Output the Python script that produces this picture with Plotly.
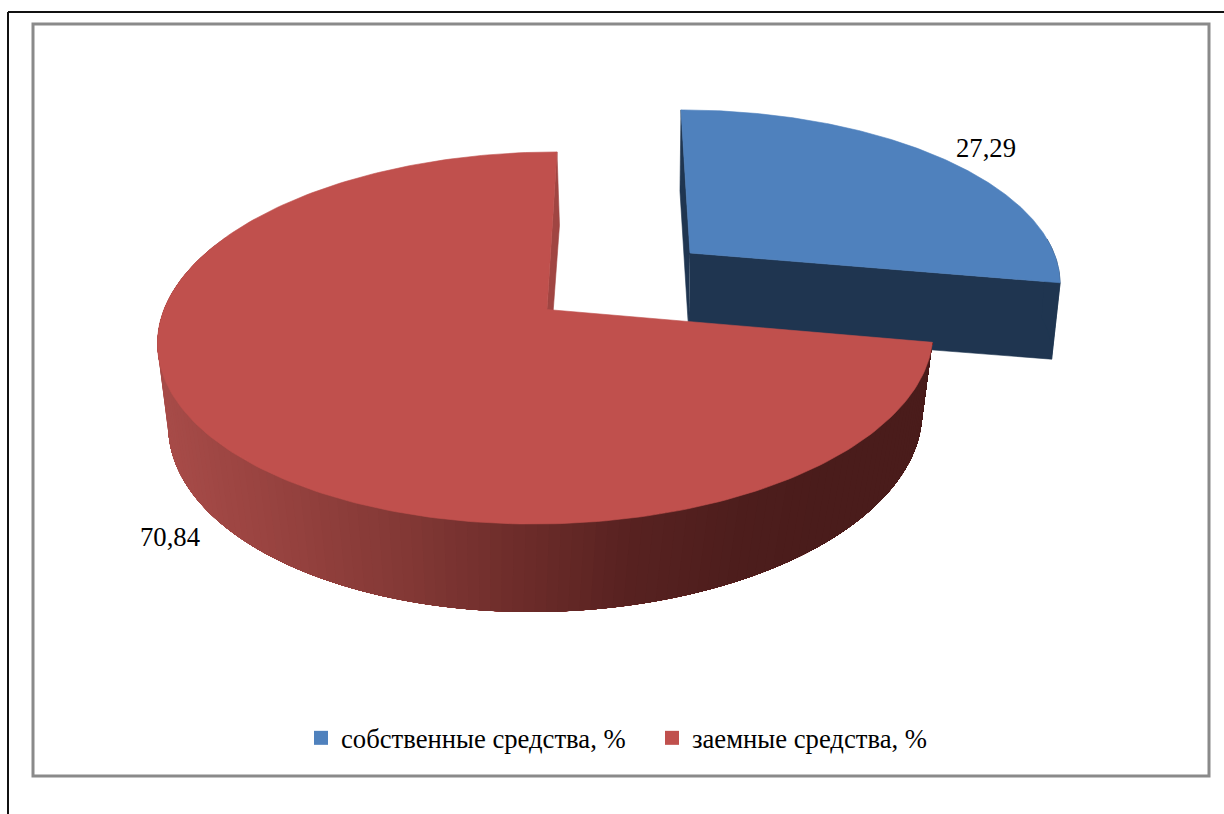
import numpy as np
import plotly.graph_objects as go

# ---- data ----
categories = ["собственные средства, %", "заемные средства, %"]
values = [27.29, 70.84]
value_labels = ["27,29", "70,84"]

# ---- style ----
top_colors = ["#4f81bd", "#c0504d"]
wall_colors = ["#1f3550", "#a04542"]
FONT = "Liberation Serif"
RED_RAMP_X = [170, 290, 400, 500, 620, 720, 820, 925]
RED_RAMP_R = [168, 150, 132, 112, 88, 78, 74, 74]
RED_RAMP_G = [76, 66, 57, 46, 34, 30, 28, 28]
RED_RAMP_B = [73, 63, 54, 44, 33, 29, 27, 27]

# ---- perspective projection of the disc (top and bottom rims of each slice) ----
PROJ = {
    0: {"top": dict(x0=690, y0=253, a=364, b=165, k=-0.153, s=10.4),
        "bot": dict(x0=688.7, y0=331, a=359, b=157, k=-0.122, s=9.8)},
    1: {"top": dict(x0=547, y0=309.5, a=383, b=181.7, k=-0.153, s=-11.5),
        "bot": dict(x0=547, y0=395, a=374, b=190.5, k=-0.122, s=-14)},
}


def project(theta_deg, p):
    t = np.radians(np.asarray(theta_deg, dtype=float))
    u, v = np.cos(t), np.sin(t)
    w = 1 + p["k"] * v
    return p["x0"] + (p["a"] * u + p["s"] * v) / w, p["y0"] + p["b"] * v / w


# slice angles follow from the values; first slice starts at 12 o'clock, clockwise
total = sum(values)
edges = -90 + 360 * np.cumsum([0] + values) / total
blue_a, blue_b = edges[0], edges[1]
red_a, red_b = edges[1], edges[2]

fig = go.Figure()


def poly(xs, ys, color, width=0.6):
    fig.add_trace(go.Scatter(x=list(xs), y=list(ys), mode="lines", fill="toself",
                             fillcolor=color, line=dict(color=color, width=width),
                             hoverinfo="skip", showlegend=False))


def cut_wall(i, angle, color):
    tx, ty = project(angle, PROJ[i]["top"])
    bx, by = project(angle, PROJ[i]["bot"])
    t, b = PROJ[i]["top"], PROJ[i]["bot"]
    poly([t["x0"], tx, bx, b["x0"]], [t["y0"], ty, by, b["y0"]], color)


def rim_wall(i, a0, a1, color):
    th = np.linspace(a0, a1, 160)
    tx, ty = project(th, PROJ[i]["top"])
    bx, by = project(th, PROJ[i]["bot"])
    poly(np.r_[tx, bx[::-1]], np.r_[ty, by[::-1]], color)


def top_face(i, a0, a1, color):
    th = np.linspace(a0, a1, 240)
    tx, ty = project(th, PROJ[i]["top"])
    p = PROJ[i]["top"]
    poly(np.r_[p["x0"], tx, p["x0"]], np.r_[p["y0"], ty, p["y0"]], color)


# blue slice: walls, then top
cut_wall(0, blue_a, wall_colors[0])
cut_wall(0, blue_b, wall_colors[0])
rim_wall(0, -5, blue_b, wall_colors[0])
top_face(0, blue_a, blue_b, top_colors[0])

# red slice: shaded outer wall painted left to right, each band covering the remainder
th_steps = np.arange(205, red_a - 0.01, -1.5)
for a0 in th_steps:
    seg = np.linspace(a0, red_a, 80)
    tx, ty = project(seg, PROJ[1]["top"])
    bx, by = project(seg, PROJ[1]["bot"])
    xm = bx[0]
    c = "rgb(%d,%d,%d)" % (np.interp(xm, RED_RAMP_X, RED_RAMP_R),
                           np.interp(xm, RED_RAMP_X, RED_RAMP_G),
                           np.interp(xm, RED_RAMP_X, RED_RAMP_B))
    poly(np.r_[tx, bx[::-1]], np.r_[ty, by[::-1]], c, width=0)
cut_wall(1, red_b, wall_colors[1])
top_face(1, red_a, red_b, top_colors[1])

# legend entries
for name, col in zip(categories, top_colors):
    fig.add_trace(go.Scatter(x=[None], y=[None], mode="markers", name=name,
                             marker=dict(symbol="square", size=14, color=col)))

fig.update_layout(
    width=1224, height=814, autosize=False,
    margin=dict(l=0, r=0, t=0, b=0),
    paper_bgcolor="white", plot_bgcolor="white",
    xaxis=dict(range=[0, 1224], visible=False, fixedrange=True),
    yaxis=dict(range=[814, 0], visible=False, fixedrange=True),
    showlegend=True,
    legend=dict(orientation="h", x=301 / 1224, y=1 - 714 / 814, xanchor="left", yanchor="top",
                entrywidth=306, entrywidthmode="pixels", borderwidth=0, bgcolor="rgba(0,0,0,0)",
                font=dict(family=FONT, size=26.67, color="black")),
    annotations=[
        dict(x=985.5, y=148, text=value_labels[0], showarrow=False,
             font=dict(family=FONT, size=26.67, color="black")),
        dict(x=170, y=537, text=value_labels[1], showarrow=False,
             font=dict(family=FONT, size=26.67, color="black")),
    ],
    shapes=[
        dict(type="line", xref="x", yref="y", x0=8, y0=12, x1=1224, y1=12,
             line=dict(color="#111111", width=2)),
        dict(type="line", xref="x", yref="y", x0=8, y0=12, x1=8, y1=814,
             line=dict(color="#111111", width=2)),
        dict(type="rect", xref="x", yref="y", x0=33, y0=24, x1=1209, y1=776,
             line=dict(color="#8a8a8a", width=3), layer="below"),
    ],
)

fig.write_html("out.html", config={"displayModeBar": False},
               post_script="document.body.style.margin='0';document.documentElement.style.overflow='hidden';")
